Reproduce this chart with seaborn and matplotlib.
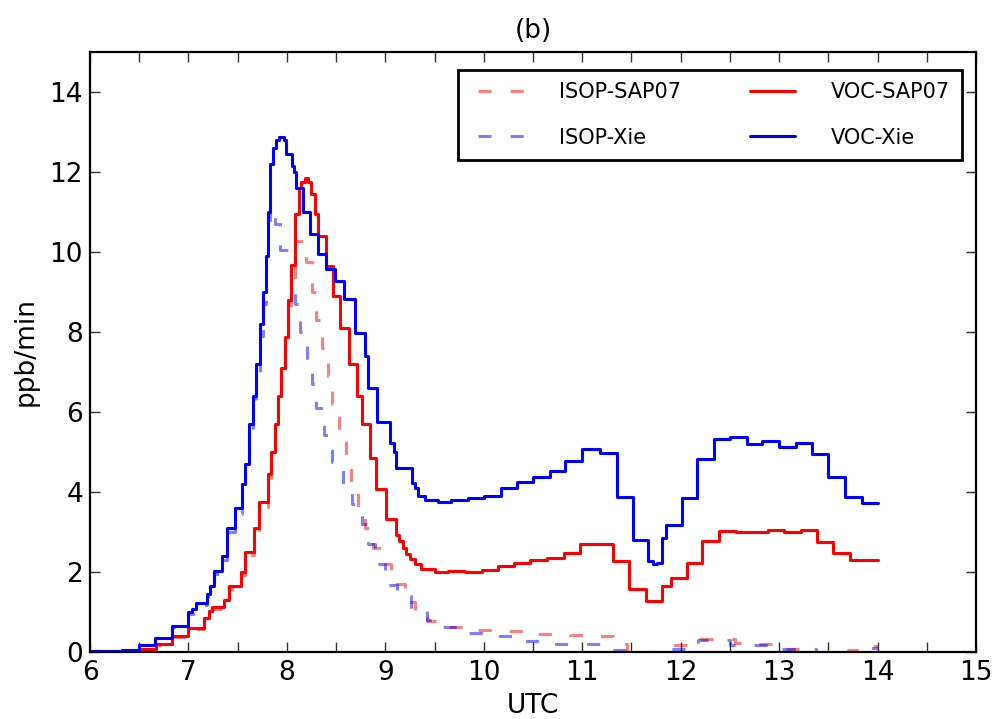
import matplotlib
matplotlib.use("Agg")
import matplotlib.pyplot as plt
import seaborn as sns
import pandas as pd
from matplotlib.ticker import MultipleLocator
from matplotlib.legend_handler import HandlerLine2D
from matplotlib.lines import Line2D

# ---------------- data (UTC hour, ppb/min), steps-post ----------------
t_voc_sap = [6.00, 6.50, 6.67, 6.83, 7.00, 7.16, 7.21, 7.24, 7.36, 7.41, 7.53, 7.57, 7.67, 7.72,
             7.81, 7.84, 7.88, 7.91, 7.94, 7.98, 8.01, 8.04, 8.08, 8.12, 8.14, 8.18, 8.21, 8.24,
             8.29, 8.32, 8.40, 8.47, 8.54, 8.63, 8.71, 8.76, 8.84, 8.91, 9.01, 9.11, 9.14, 9.18,
             9.21, 9.25, 9.30, 9.36, 9.50, 9.64, 9.81, 9.98, 10.14, 10.31, 10.47, 10.64, 10.81,
             10.98, 11.14, 11.31, 11.48, 11.65, 11.81, 11.90, 12.06, 12.22, 12.39, 12.56, 12.89,
             13.05, 13.22, 13.38, 13.55, 13.72, 14.00]
v_voc_sap = [0.02, 0.08, 0.20, 0.40, 0.60, 0.86, 1.02, 1.12, 1.30, 1.64, 2.00, 2.50, 3.10, 3.74,
             4.45, 5.00, 5.70, 6.40, 7.10, 7.86, 8.80, 9.67, 10.95, 11.60, 11.75, 11.83, 11.73, 11.44,
             10.94, 10.40, 9.65, 8.90, 8.10, 7.19, 6.40, 5.70, 4.85, 4.07, 3.32, 2.92, 2.78, 2.61,
             2.44, 2.32, 2.19, 2.07, 2.00, 2.02, 2.00, 2.06, 2.15, 2.22, 2.30, 2.36, 2.47,
             2.69, 2.71, 2.28, 1.57, 1.28, 1.65, 1.84, 2.22, 2.78, 3.02, 3.00, 3.04,
             3.00, 3.05, 2.75, 2.47, 2.29, 2.29]

t_voc_xie = [6.00, 6.33, 6.50, 6.66, 6.83, 7.00, 7.04, 7.08, 7.19, 7.22, 7.26, 7.34, 7.39, 7.47,
             7.54, 7.57, 7.62, 7.66, 7.69, 7.73, 7.76, 7.79, 7.81, 7.83, 7.86, 7.89, 7.92, 7.97,
             7.99, 8.05, 8.07, 8.09, 8.16, 8.23, 8.32, 8.40, 8.49, 8.58, 8.69, 8.79, 8.82, 8.92,
             9.05, 9.09, 9.11, 9.27, 9.30, 9.33, 9.40, 9.54, 9.67, 9.84, 10.00, 10.17, 10.34,
             10.50, 10.67, 10.83, 11.00, 11.18, 11.35, 11.52, 11.67, 11.72, 11.76, 11.81, 11.85,
             12.01, 12.17, 12.34, 12.50, 12.67, 12.83, 13.00, 13.17, 13.33, 13.50, 13.67, 13.84, 14.00]
v_voc_xie = [0.02, 0.05, 0.18, 0.35, 0.65, 1.00, 1.07, 1.23, 1.44, 1.65, 2.03, 2.40, 3.10, 3.60,
             4.20, 4.70, 5.70, 6.40, 7.20, 8.20, 9.00, 9.90, 11.00, 12.20, 12.60, 12.80, 12.87, 12.78,
             12.45, 12.15, 12.00, 11.60, 11.00, 10.45, 9.94, 9.57, 9.28, 8.82, 7.98, 7.40, 6.60, 5.75,
             5.23, 5.00, 4.60, 4.23, 4.10, 3.90, 3.80, 3.75, 3.80, 3.84, 3.90, 4.10, 4.25,
             4.38, 4.51, 4.76, 5.07, 4.97, 3.88, 2.79, 2.28, 2.19, 2.23, 2.86, 3.17,
             3.84, 4.83, 5.33, 5.36, 5.19, 5.28, 5.11, 5.22, 4.94, 4.38, 3.86, 3.72, 3.72]

t_isop_sap = [6.00, 6.50, 6.67, 6.83, 7.00, 7.16, 7.21, 7.24, 7.36, 7.41, 7.53, 7.57, 7.67, 7.72,
              7.81, 7.84, 7.88, 7.91, 7.94, 7.98, 8.01, 8.04, 8.08, 8.19, 8.25, 8.30, 8.36, 8.42,
              8.46, 8.53, 8.60, 8.65, 8.72, 8.79, 8.87, 8.96, 9.06, 9.20, 9.30, 9.42, 9.65, 9.92,
              10.25, 10.55, 10.88, 11.15, 11.31, 11.45, 11.85, 12.20, 12.55, 12.70, 12.95, 13.37,
              13.70, 13.85, 14.00]
v_isop_sap = [0.02, 0.07, 0.18, 0.38, 0.57, 0.82, 0.98, 1.08, 1.25, 1.58, 1.93, 2.42, 3.00, 3.62,
              4.30, 4.85, 5.50, 6.20, 6.90, 7.60, 8.50, 9.30, 10.27, 9.75, 9.00, 8.30, 7.60, 6.90,
              6.20, 5.50, 4.65, 4.05, 3.60, 3.10, 2.60, 2.20, 1.70, 1.25, 0.98, 0.78, 0.63, 0.55,
              0.52, 0.45, 0.43, 0.40, 0.20, 0.00, 0.18, 0.33, 0.23, 0.19, 0.08, 0.00,
              0.05, 0.14, 0.14]

t_isop_xie = [6.00, 6.33, 6.50, 6.66, 6.83, 7.00, 7.08, 7.19, 7.22, 7.26, 7.34, 7.39, 7.47, 7.54,
              7.57, 7.62, 7.66, 7.69, 7.73, 7.76, 7.79, 7.81, 7.83, 7.88, 7.93, 8.04, 8.08, 8.13,
              8.20, 8.26, 8.30, 8.38, 8.46, 8.57, 8.66, 8.76, 8.82, 8.90, 9.00, 9.12, 9.26, 9.42,
              9.58, 9.83, 10.10, 10.42, 10.70, 11.30, 11.50, 11.75, 12.05, 12.18, 12.50, 12.70,
              12.97, 13.37, 13.83, 14.00]
v_isop_xie = [0.02, 0.05, 0.17, 0.33, 0.62, 0.95, 1.18, 1.38, 1.60, 1.95, 2.30, 3.00, 3.45, 4.00,
              4.50, 5.40, 6.10, 6.90, 7.90, 8.70, 9.60, 10.50, 11.15, 10.70, 10.05, 9.30, 8.70, 8.00,
              7.30, 6.70, 6.10, 5.42, 4.75, 4.20, 3.70, 3.20, 2.70, 2.20, 1.68, 1.40, 1.05, 0.79,
              0.63, 0.48, 0.39, 0.28, 0.21, 0.04, 0.00, 0.08, 0.11, 0.29, 0.17, 0.17,
              0.07, 0.00, 0.11, 0.11]

labels = ["ISOP-SAP07", "ISOP-Xie", "VOC-SAP07", "VOC-Xie"]
x_ticklabels = ["6", "7", "8", "9", "10", "11", "12", "13", "14", "15"]
y_ticklabels = ["0", "2", "4", "6", "8", "10", "12", "14"]

# ---------------- style ----------------
sns.set_style("ticks")
plt.rcParams["font.family"] = ["DejaVu Sans"]
plt.rcParams.update({
    "xtick.direction": "in", "ytick.direction": "in",
    "xtick.top": True, "ytick.right": True,
    "axes.edgecolor": "black", "axes.linewidth": 1.6,
    "text.color": "black", "axes.labelcolor": "black",
    "xtick.color": "black", "ytick.color": "black",
})

fig = plt.figure(figsize=(10.07, 7.19), dpi=100)
ax = fig.add_axes([90 / 1007, 1 - 652 / 719, 886 / 1007, 600.4 / 719])

dash = (0, (4.3, 6.2))
series = [
    (t_isop_sap, v_isop_sap, labels[0], "#ff0000", 0.5, dash),
    (t_isop_xie, v_isop_xie, labels[1], "#0000ff", 0.5, dash),
    (t_voc_sap, v_voc_sap, labels[2], "#ff0000", 1.0, "-"),
    (t_voc_xie, v_voc_xie, labels[3], "#0000ff", 1.0, "-"),
]
for t, v, lab, col, a, ls in series:
    df = pd.DataFrame({"UTC": t, "rate": v})
    sns.lineplot(data=df, x="UTC", y="rate", ax=ax, color=col, alpha=a,
                 linestyle=ls, linewidth=2.2, drawstyle="steps-post",
                 label=lab, sort=False, estimator=None)

ax.set_xlim(6, 15)
ax.set_ylim(0, 15)
ax.set_xticks(range(6, 16))
ax.set_xticklabels(x_ticklabels)
ax.xaxis.set_minor_locator(MultipleLocator(0.5))
ax.set_yticks(range(0, 15, 2))
ax.set_yticklabels(y_ticklabels)
ax.tick_params(which="both", direction="in", top=True, right=True,
               length=7, width=1, color="#333333", labelsize=19)
ax.tick_params(axis="y", which="major", pad=5)
ax.tick_params(axis="x", which="major", pad=6)

ax.set_xlabel("UTC", fontsize=19, labelpad=5)
ax.set_ylabel("ppb/min", fontsize=19, labelpad=8)
ax.set_title("(b)", fontsize=19, pad=10)

handles, labs = ax.get_legend_handles_labels()
leg = ax.legend(handles, labs, ncol=2, loc="upper right",
                bbox_to_anchor=((962 - 90) / 886, (652 - 70) / 600.4),
                fontsize=15, frameon=True, fancybox=False, handlelength=2.57,
                handletextpad=1.7, columnspacing=2.9, borderpad=0.6,
                labelspacing=1.2, borderaxespad=0.0,
                handler_map={Line2D: HandlerLine2D(xpad=0.4)})
leg.get_frame().set_edgecolor("black")
leg.get_frame().set_linewidth(2.0)
leg.get_frame().set_alpha(1.0)

fig.savefig("out.png", dpi=100)
